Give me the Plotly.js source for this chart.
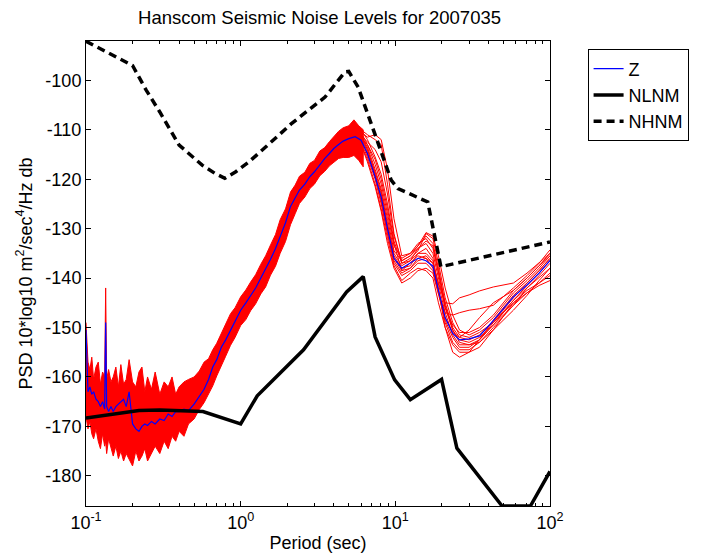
<!DOCTYPE html>
<html>
<head>
<meta charset="utf-8">
<script src="https://cdn.plot.ly/plotly-3.0.1.min.js"></script>
<style>html,body{margin:0;padding:0;background:#fff;}#chart{width:701px;height:559px;}</style>
</head>
<body>
<div id="chart"></div>
<script>
// ---------- Data ----------
const bandPeriods = [0.100,0.103,0.106,0.109,0.112,0.116,0.120,0.124,0.128,0.132,0.134,0.136,0.140,0.145,0.150,0.156,0.162,0.168,0.175,0.182,0.19,0.2,0.21,0.22,0.23,0.24,0.25,0.265,0.28,0.3,0.32,0.34,0.36,0.38,0.4,0.43,0.46,0.5,0.54,0.58,0.62,0.66,0.7,0.75,0.8,0.86,0.92,1.0,1.08,1.16,1.25,1.35,1.45,1.56,1.68,1.8,1.95,2.1,2.25,2.4,2.6,2.8,3.0,3.25,3.5,3.75,4.0,4.3,4.6,5.0,5.4,5.8,6.2];
const bandUpper = [-149,-157,-158.5,-156,-160.5,-158,-157,-161.5,-159,-160,-142,-160.5,-158.5,-161,-160,-158,-162,-157.5,-161.5,-160.5,-156.5,-161,-162,-159,-158,-163,-160,-162.5,-159,-163.5,-161,-162,-160,-163.5,-162,-161,-160.5,
  -160,-158.8,-157,-156.3,-154.5,-153.2,-151,-149.3,-147.2,-146,-143.8,-142.4,-140.8,-139.3,-137.2,-135.5,-133.3,-131.2,-128.2,-126,-122.6,-121.2,-119.4,-118.6,-116.8,-116.2,-114.3,-113.6,-112.4,-111.5,-110.3,-109.6,-109.2,-108,-109.2,-110];
const bandLower = [-168,-170.5,-169,-171.5,-172.5,-170.5,-173,-174.5,-171.5,-174,-173,-175.5,-172.5,-174.5,-176,-174,-176.5,-175,-177,-175.5,-176.5,-178,-175,-177,-176,-174.5,-177,-175.5,-174,-175.5,-173,-174.5,-172,-173,-171,-172,-169.5,
  -168.5,-166.6,-165.2,-163.4,-161.8,-159.8,-157.6,-155.8,-153.6,-152,-149.6,-148.4,-146.6,-145.2,-143.2,-141.8,-139.4,-137.6,-135,-132.6,-129.2,-127,-124.9,-123.6,-121.9,-121,-119.3,-118.4,-117.3,-116.6,-115.8,-115.6,-115.6,-115.2,-116.2,-117.5];

const longPeriods = [5,5.5,6,6.6,7.4,8.1,8.9,9.8,11,12.5,14,15.8,17.5,19,21,23.5,26,30,35,43,58,71,85,100];
const red1  = [-110.5,-110,-111,-113.5,-118,-122,-128,-134.5,-136.5,-135.5,-134,-133,-135,-140,-146,-149.5,-151,-151,-150,-147.5,-142.5,-140,-137.5,-135];
const red2  = [-111,-110.5,-110,-111,-112,-113,-121,-131,-137,-136,-134.5,-131,-132,-137,-144,-149,-151.5,-152,-151,-149,-144.5,-141.5,-139,-136.5];
const red3  = [-112,-111,-110.5,-111.5,-111,-112,-118,-128,-135.5,-135,-133.5,-130.8,-131.5,-135.5,-142,-147.5,-150.5,-151.5,-150.5,-148,-143,-140.5,-138,-135.5];
const red4  = [-113,-112.5,-113,-116,-121,-126,-132,-137.5,-140.5,-139,-138,-138.5,-140,-145,-150,-153.5,-155,-155,-154,-150.5,-145,-142.5,-141,-139];
const red5  = [-111.5,-111,-112,-115,-119,-124,-130,-136,-138.5,-137,-135.5,-136,-137,-141,-145,-145.2,-144,-143.4,-142.6,-141.8,-141,-139,-137,-135];
const red6  = [-112,-111.5,-112.5,-115.5,-120,-125,-131,-136.5,-139,-138,-136.5,-136,-138,-143,-147,-147.5,-147,-146.5,-146.2,-145.5,-142,-139.5,-137,-134.3];
const red7  = [-110,-109.5,-111,-114,-119,-123,-129.5,-135.5,-138,-137.5,-135,-134,-136,-142,-150,-155,-156,-155,-152.5,-149,-145,-143,-141.5,-140.5];
const red8  = [-111,-110.5,-111.5,-114,-118.5,-122.5,-129,-135,-137.5,-136.5,-135,-135,-136.5,-141.5,-147,-151.5,-153.5,-153.5,-152.5,-149.5,-144.5,-142,-140,-138];
const red9  = [-109.5,-109,-110.5,-113,-117,-121,-127,-133.5,-136,-135,-133,-132,-134,-139,-146,-150.5,-152.5,-153,-152,-149.5,-145.5,-142,-139.5,-137];
const red10 = [-112.5,-112,-113,-116.5,-121.5,-126.5,-133,-138,-141,-140,-138.5,-138,-139,-143.5,-148.5,-152,-154,-154,-152.5,-148.5,-143.5,-141,-138.5,-136];
const red11 = [-110,-109,-110,-112,-115.5,-119,-125,-132.5,-137,-136.5,-134,-132.5,-133.5,-138.5,-145,-150,-152,-152.5,-151.5,-148.8,-144,-141,-138.5,-136];
const red12 = [-111.5,-111,-111.5,-113,-116,-120,-126,-133,-138.5,-138,-136,-135.5,-137,-142.5,-149,-153,-154.5,-154.5,-153,-150,-145.5,-143,-141,-139.5];
const red13 = [-112,-111,-111,-112.5,-114,-116.5,-123,-131.5,-136.5,-135.5,-133.5,-131.5,-133,-138,-145.5,-150.5,-153,-153.5,-153,-150.5,-146.5,-143.5,-140.5,-138];
const red14 = [-110.5,-110,-111.5,-114.5,-119.5,-124.5,-131,-137,-139.5,-138.5,-137,-137,-138.5,-143,-148,-151,-152,-150.5,-148,-145,-142.5,-140,-137.5,-135.5];

const zPeriods = [0.100,0.103,0.106,0.109,0.112,0.116,0.120,0.124,0.128,0.132,0.134,0.136,0.140,0.145,0.150,0.156,0.162,0.168,0.175,0.182,0.19,0.2,0.21,0.22,0.23,0.24,0.25,0.265,0.28,0.3,0.32,0.34,0.36,0.38,0.4,0.43,0.46,0.5,0.54,0.58,0.62,0.66,0.7,0.75,0.8,0.86,0.92,1.0,1.08,1.16,1.25,1.35,1.45,1.56,1.68,1.8,1.95,2.1,2.25,2.4,2.6,2.8,3.0,3.25,3.5,3.75,4.0,4.3,4.6,5.0,5.5,6,6.6,7.4,8.1,8.9,9.8,11,12.5,14,15.8,17.5,19,21,23.5,26,30,35,43,58,71,85,100];
const zValues = [-150.5,-163,-162,-163.5,-163,-164.5,-165,-166,-165,-166.5,-149,-166,-167,-166,-167,-166,-165.5,-165,-164.5,-166,-163,-169.5,-170.5,-171,-170,-169.5,-169.8,-169,-169.5,-168.5,-168.8,-167.5,-168,-167,-167,-166.5,-166.8,-165.5,-164,-162.5,-160.5,-158,-156.5,-154,-152.5,-150.5,-148.5,-146.5,-145,-143.5,-142,-140,-138.2,-136.2,-134,-131.5,-128.8,-125.5,-123.8,-122.2,-121,-119.5,-118.5,-117,-115.8,-114.8,-113.8,-113,-112.3,-111.8,-111.4,-112.1,-114.8,-119.5,-123.6,-130,-136,-138,-137,-136,-136.5,-137.6,-142.5,-148,-151.2,-152.5,-152.3,-151.7,-148.6,-143.8,-141.4,-139,-136.4];

const nlnmPeriods = [0.1,0.13,0.17,0.22,0.3,0.45,0.57,1.0,1.28,2.55,4.84,6.2,7.4,9.9,12.5,19.9,25,49,74.7,100];
const nlnmValues  = [-168.3,-167.8,-167.2,-166.8,-166.7,-166.8,-167.0,-169.5,-163.8,-154.5,-142.8,-139.7,-151.9,-160.6,-164.6,-160.5,-174.4,-186.1,-186.1,-179.1];

const nhnmPeriods = [0.1,0.2,0.245,0.3,0.4,0.566,0.68,0.79,0.93,1.13,1.45,2.14,3.51,4.72,5.0,5.75,7.36,9.4,10.4,16.2,19.7,100];
const nhnmValues  = [-92.1,-97.0,-102,-106.4,-113.1,-117.2,-118.8,-119.8,-118.5,-116.5,-113.5,-108.7,-103.4,-98.3,-98.2,-101.4,-110.8,-120.2,-121.9,-124.6,-137.7,-132.7];

const xTickVals = [0.1,1,10,100];
const xTickText = ['10<sup>-1</sup>','10<sup>0</sup>','10<sup>1</sup>','10<sup>2</sup>'];
const xMinorVals = [0.2,0.3,0.4,0.5,0.6,0.7,0.8,0.9,2,3,4,5,6,7,8,9,20,30,40,50,60,70,80,90];
const yTickVals = [-180,-170,-160,-150,-140,-130,-120,-110,-100];
const yTickText = ['-180','-170','-160','-150','-140','-130','-120','-110','-100'];

// ---------- Traces ----------
const RED = '#ff0000';
const traces = [];
traces.push({
  x: bandPeriods.concat(bandPeriods.slice().reverse()),
  y: bandUpper.concat(bandLower.slice().reverse()),
  type: 'scatter', mode: 'lines', fill: 'toself', fillcolor: RED,
  line: {color: RED, width: 1}, showlegend: false, hoverinfo: 'skip'
});
[red1,red2,red3,red4,red5,red6,red7,red8,red9,red10,red11,red12,red13,red14].forEach(r => {
  traces.push({x: longPeriods, y: r, type: 'scatter', mode: 'lines',
    line: {color: RED, width: 1}, showlegend: false, hoverinfo: 'skip'});
});
traces.push({x: zPeriods, y: zValues, type: 'scatter', mode: 'lines', name: 'Z',
  line: {color: '#0000ff', width: 1.2}});
traces.push({x: nlnmPeriods, y: nlnmValues, type: 'scatter', mode: 'lines', name: 'NLNM',
  line: {color: '#000', width: 3.5}});
traces.push({x: nhnmPeriods, y: nhnmValues, type: 'scatter', mode: 'lines', name: 'NHNM',
  line: {color: '#000', width: 3.5, dash: '8px,5px'}});

const FONT = 'Liberation Sans, Arial, Helvetica, sans-serif';
const layout = {
  width: 701, height: 559,
  margin: {l: 86, r: 148, t: 41, b: 53, pad: 0},
  paper_bgcolor: '#fff', plot_bgcolor: '#fff',
  font: {family: FONT, size: 18, color: '#000'},
  title: {text: 'Hanscom Seismic Noise Levels for 2007035', font: {family: FONT, size: 18.5, color: '#000'},
    x: 0.4558, xanchor: 'center', y: 0.968, yanchor: 'middle'},
  xaxis: {
    type: 'log', range: [-1, 2], tickmode: 'array', tickvals: xTickVals, ticktext: xTickText,
    ticks: 'inside', ticklen: 5, tickwidth: 1, tickcolor: '#000',
    showline: true, linecolor: '#000', linewidth: 1, mirror: 'ticks', showgrid: false, zeroline: false,
    minor: {tickmode: 'array', tickvals: xMinorVals, ticks: 'inside', ticklen: 3, tickcolor: '#000', showgrid: false},
    tickfont: {family: FONT, size: 18},
    title: {text: 'Period (sec)', font: {family: FONT, size: 18}, standoff: 4}
  },
  yaxis: {
    range: [-186.1, -92.05], tickmode: 'array', tickvals: yTickVals, ticktext: yTickText,
    ticks: 'inside', ticklen: 5, tickwidth: 1, tickcolor: '#000',
    showline: true, linecolor: '#000', linewidth: 1, mirror: 'ticks', showgrid: false, zeroline: false,
    tickfont: {family: FONT, size: 18},
    title: {text: 'PSD 10*log10 m<sup>2</sup>/sec<sup>4</sup>/Hz db', font: {family: FONT, size: 18}, standoff: 8}
  },
  showlegend: true,
  legend: {x: 1.081, y: 0.982, xanchor: 'left', yanchor: 'top', bgcolor: '#fff',
    bordercolor: '#000', borderwidth: 1, font: {family: FONT, size: 18}, tracegroupgap: 0}
};

Plotly.newPlot('chart', traces, layout, {displayModeBar: false, staticPlot: true});
</script>
</body>
</html>
